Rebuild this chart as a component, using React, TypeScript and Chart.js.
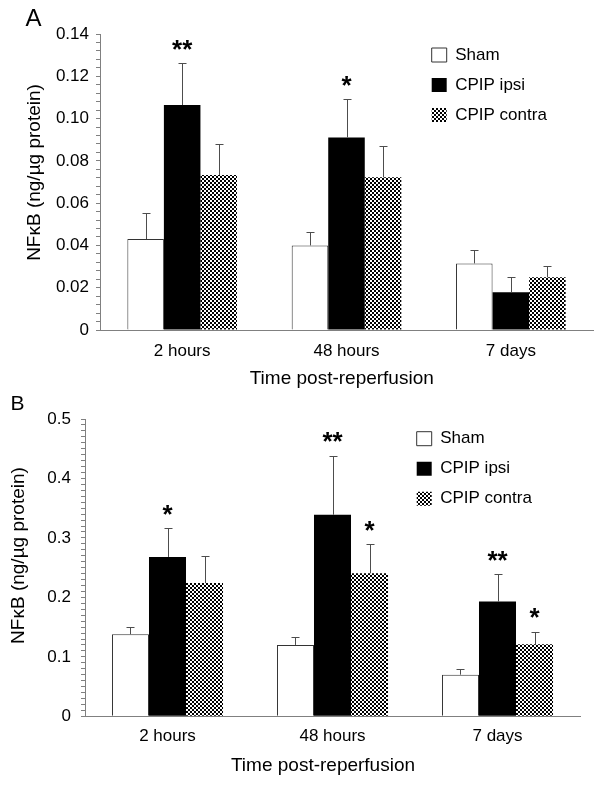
import React, { useEffect, useRef } from 'react';
import { Chart, registerables } from 'chart.js';

Chart.register(...registerables);

const FONT = "'Liberation Sans', Arial, Helvetica, sans-serif";

const categories = ['2 hours', '48 hours', '7 days'];
const seriesLabels = ['Sham', 'CPIP ipsi', 'CPIP contra'];

// Panel A values (ng/µg protein)
const shamA = [0.043, 0.04, 0.0315];
const ipsiA = [0.1064, 0.0911, 0.0178];
const contraA = [0.0733, 0.0722, 0.0249];
const shamErrA = [0.0122, 0.0065, 0.0062];
const ipsiErrA = [0.0197, 0.018, 0.0073];
const contraErrA = [0.0145, 0.0148, 0.0055];
const shamStarsA = ['', '', ''];
const ipsiStarsA = ['**', '*', ''];
const contraStarsA = ['', '', ''];

// Panel B values (ng/µg protein)
const shamB = [0.138, 0.12, 0.07];
const ipsiB = [0.268, 0.339, 0.193];
const contraB = [0.224, 0.2405, 0.121];
const shamErrB = [0.013, 0.013, 0.009];
const ipsiErrB = [0.048, 0.099, 0.046];
const contraErrB = [0.046, 0.049, 0.021];
const shamStarsB = ['', '', ''];
const ipsiStarsB = ['*', '**', '**'];
const contraStarsB = ['', '*', '*'];

const yTitle = 'NFκB (ng/µg protein)';
const xTitle = 'Time post-reperfusion';

function makeChecker(ctx: CanvasRenderingContext2D) {
  const c = document.createElement('canvas');
  c.width = 4;
  c.height = 4;
  const g = c.getContext('2d')!;
  g.fillStyle = '#ffffff';
  g.fillRect(0, 0, 4, 4);
  g.fillStyle = '#000000';
  g.fillRect(0, 0, 2, 2);
  g.fillRect(2, 2, 2, 2);
  return ctx.createPattern(c, 'repeat')!;
}

const errorBarPlugin = {
  id: 'errorBars',
  afterDatasetsDraw(chart: any) {
    const ctx = chart.ctx as CanvasRenderingContext2D;
    const y = chart.scales.y;
    chart.data.datasets.forEach((ds: any, i: number) => {
      const meta = chart.getDatasetMeta(i);
      meta.data.forEach((bar: any, j: number) => {
        const v = ds.data[j];
        const e = ds.errors[j];
        const yTop = y.getPixelForValue(v);
        const yErr = y.getPixelForValue(v + e);
        const x = Math.round(bar.x) + 0.5;
        const ye = Math.round(yErr) + 0.5;
        ctx.save();
        ctx.strokeStyle = '#4d4d4d';
        ctx.lineWidth = 1;
        ctx.beginPath();
        ctx.moveTo(x, yTop);
        ctx.lineTo(x, ye);
        ctx.moveTo(x - 4, ye);
        ctx.lineTo(x + 4, ye);
        ctx.stroke();
        const s = ds.stars[j];
        if (s) {
          ctx.fillStyle = '#000';
          ctx.font = `bold 26px ${FONT}`;
          ctx.textAlign = 'center';
          ctx.textBaseline = 'alphabetic';
          ctx.fillText(s, bar.x, yErr - 5.5);
        }
        ctx.restore();
      });
    });
  },
};

function legendPlacer(left: number, top: number) {
  return {
    id: 'legendPlacer',
    afterLayout(chart: any) {
      const lg = chart.legend;
      if (!lg) return;
      const w = lg.width;
      const h = lg.height;
      lg.left = left;
      lg.top = top;
      lg.right = left + w;
      lg.bottom = top + h;
    },
  };
}

interface Spec {
  sham: number[];
  ipsi: number[];
  contra: number[];
  errs: number[][];
  stars: string[][];
  max: number;
  step: number;
  major: number;
  decimals: number;
  catPct: number;
  padTop: number;
  padRight: number;
  yWidth: number;
  xHeight: number;
  tickPadY: number;
  tickPadX: number;
  yTitlePad: number;
  xTitlePad: number;
  yTitleText: string;
  xTitleText: string;
  legendLeft: number;
  legendTop: number;
}

const specA: Spec = {
  sham: shamA,
  ipsi: ipsiA,
  contra: contraA,
  errs: [shamErrA, ipsiErrA, contraErrA],
  stars: [shamStarsA, ipsiStarsA, contraStarsA],
  max: 0.14,
  step: 0.004,
  major: 0.02,
  decimals: 2,
  catPct: 0.667,
  padTop: 34,
  padRight: 9,
  yWidth: 100,
  xHeight: 63,
  tickPadY: 7,
  tickPadX: 11,
  yTitlePad: 23.6,
  xTitlePad: 2.5,
  yTitleText: '\u2002\u2002' + yTitle,
  xTitleText: xTitle + '\u2002',
  legendLeft: 418.7,
  legendTop: 33.5,
};

const specB: Spec = {
  sham: shamB,
  ipsi: ipsiB,
  contra: contraB,
  errs: [shamErrB, ipsiErrB, contraErrB],
  stars: [shamStarsB, ipsiStarsB, contraStarsB],
  max: 0.5,
  step: 0.01,
  major: 0.1,
  decimals: 1,
  catPct: 0.673,
  padTop: 26,
  padRight: 22,
  yWidth: 85,
  xHeight: 69.7,
  tickPadY: 10,
  tickPadX: 10,
  yTitlePad: 7,
  xTitlePad: 8.8,
  yTitleText: '\u2002\u2002 ' + yTitle,
  xTitleText: xTitle + '\u2002\u2002',
  legendLeft: 403.7,
  legendTop: 24.2,
};

function Panel({ spec, top }: { spec: Spec; top: number }) {
  const ref = useRef<HTMLCanvasElement>(null);
  useEffect(() => {
    const canvas = ref.current!;
    const ctx = canvas.getContext('2d')!;
    const checker = makeChecker(ctx);
    const tickFont = { family: FONT, size: 17 };
    const titleFont = { family: FONT, size: 19 };
    const chart = new Chart(canvas, {
      type: 'bar',
      data: {
        labels: categories,
        datasets: [
          {
            label: seriesLabels[0],
            data: spec.sham,
            errors: spec.errs[0],
            stars: spec.stars[0],
            backgroundColor: '#ffffff',
            borderColor: '#333333',
            borderWidth: 1,
          } as any,
          {
            label: seriesLabels[1],
            data: spec.ipsi,
            errors: spec.errs[1],
            stars: spec.stars[1],
            backgroundColor: '#000000',
            borderColor: '#000000',
            borderWidth: 0,
          } as any,
          {
            label: seriesLabels[2],
            data: spec.contra,
            errors: spec.errs[2],
            stars: spec.stars[2],
            backgroundColor: checker,
            borderColor: '#555555',
            borderWidth: 0,
          } as any,
        ],
      },
      options: {
        responsive: false,
        maintainAspectRatio: false,
        animation: false,
        devicePixelRatio: 1,
        layout: { padding: { top: spec.padTop, right: spec.padRight, left: 0, bottom: 0 } },
        datasets: { bar: { barPercentage: 1, categoryPercentage: spec.catPct } },
        plugins: {
          legend: {
            position: 'chartArea' as any,
            align: 'start',
            labels: {
              boxWidth: 15,
              boxHeight: 14,
              padding: 13,
              color: '#000',
              font: { family: FONT, size: 17 },
            },
          },
          tooltip: { enabled: false },
        },
        scales: {
          x: {
            grid: { display: false, drawTicks: false },
            border: { display: true, color: '#808080', width: 1 },
            ticks: { color: '#000', font: tickFont, padding: spec.tickPadX },
            title: {
              display: true,
              text: spec.xTitleText,
              color: '#000',
              font: titleFont,
              padding: { top: 0, bottom: spec.xTitlePad },
            },
            afterFit: (s: any) => {
              s.height = spec.xHeight;
            },
          },
          y: {
            min: 0,
            max: spec.max,
            grid: {
              display: true,
              drawOnChartArea: false,
              drawTicks: true,
              tickLength: 4,
              color: '#808080',
            },
            border: { display: true, color: '#808080', width: 1 },
            ticks: {
              stepSize: spec.step,
              autoSkip: false,
              color: '#000',
              font: tickFont,
              padding: spec.tickPadY,
              callback: (v: any) => {
                const n = Number(v);
                const r = n / spec.major;
                if (Math.abs(r - Math.round(r)) > 1e-6) return '';
                if (Math.abs(n) < 1e-9) return '0';
                return n.toFixed(spec.decimals);
              },
            },
            title: {
              display: true,
              text: spec.yTitleText,
              color: '#000',
              font: titleFont,
              padding: { top: spec.yTitlePad, bottom: 0 },
            },
            afterFit: (s: any) => {
              s.width = spec.yWidth;
            },
          },
        },
      } as any,
      plugins: [errorBarPlugin, legendPlacer(spec.legendLeft, spec.legendTop)],
    });
    return () => chart.destroy();
  }, []);
  return (
    <canvas
      ref={ref}
      width={602}
      height={393}
      style={{ position: 'absolute', left: 0, top, width: 602, height: 393, display: 'block' }}
    />
  );
}

export default function App() {
  return (
    <div
      style={{
        position: 'absolute',
        left: 0,
        top: 0,
        width: 602,
        height: 786,
        background: '#ffffff',
        overflow: 'hidden',
        fontFamily: FONT,
      }}
    >
      <Panel spec={specA} top={0} />
      <Panel spec={specB} top={393} />
      <div style={{ position: 'absolute', left: 25.5, top: 5.9, fontSize: 24, lineHeight: 1, color: '#000' }}>A</div>
      <div style={{ position: 'absolute', left: 10.5, top: 392.4, fontSize: 21, lineHeight: 1, color: '#000' }}>B</div>
    </div>
  );
}
